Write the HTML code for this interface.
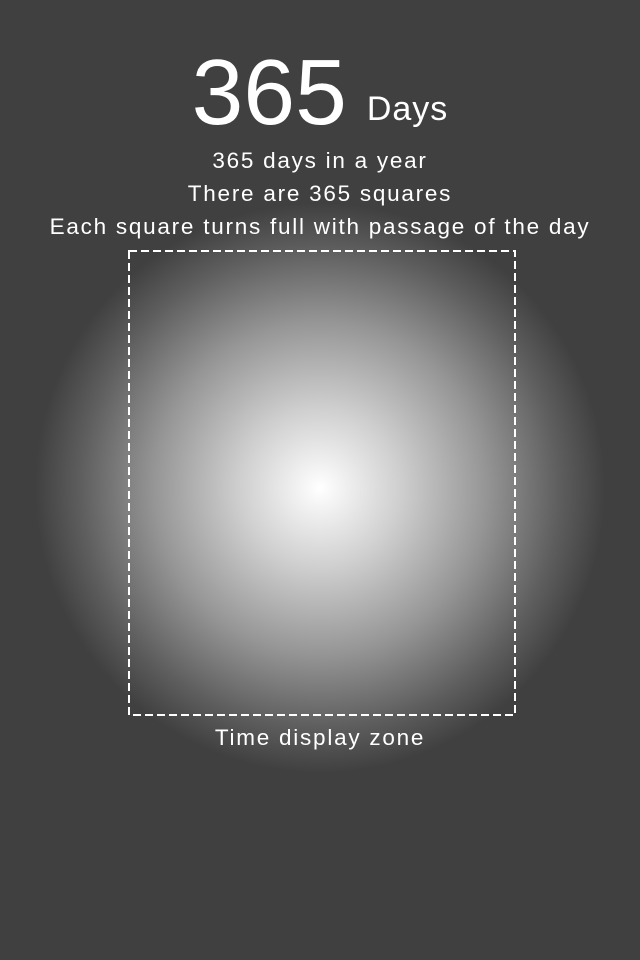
<!DOCTYPE html>
<html><head><meta charset="utf-8"><style>
html,body{margin:0;padding:0}
body{width:640px;height:960px;position:relative;overflow:hidden;background:#404040;font-family:"Liberation Sans",Arial,sans-serif;color:#fff}
#glow{position:absolute;left:0;top:0;width:640px;height:960px;background:radial-gradient(circle 285px at 320px 488px,#ffffff 0%,#cfcfcf 28%,#969696 58%,#5e5e5e 84%,#404040 100%)}
.t{position:absolute;left:0;width:640px;text-align:center;white-space:nowrap}
</style></head><body>
<div id="glow"></div>
<div class="t" style="top:42px;height:100px;">
<span style="font-size:93px;line-height:100px;">365</span><span style="font-size:34px;letter-spacing:1px;margin-left:20px;position:relative;top:-4px;">Days</span></div>
<div class="t" style="top:148px;font-size:22.5px;letter-spacing:1.75px;">365 days in a year</div>
<div class="t" style="top:181px;font-size:22.5px;letter-spacing:1.75px;">There are 365 squares</div>
<div class="t" style="top:214px;font-size:22.5px;letter-spacing:1.75px;">Each square turns full with passage of the day</div>
<svg style="position:absolute;left:0;top:0" width="640" height="960">
<rect x="129" y="251" width="386" height="464" fill="none" stroke="#fff" stroke-width="2" stroke-dasharray="8,4"/>
</svg>
<div class="t" style="top:725px;font-size:22.5px;letter-spacing:1.75px;">Time display zone</div>
</body></html>
